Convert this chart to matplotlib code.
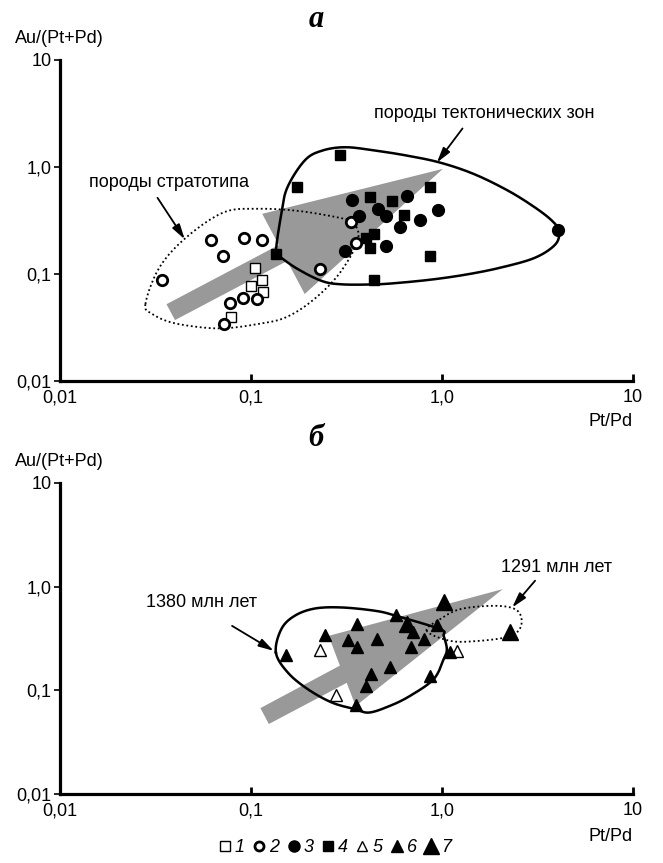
import matplotlib
matplotlib.use("Agg")
import matplotlib.pyplot as plt
import numpy as np
from matplotlib.lines import Line2D

plt.rcParams['font.family'] = ['Liberation Sans', 'DejaVu Sans']

# ---- panel a (Pt/Pd, Au/(Pt+Pd)) ----
sq_open_x = [0.105, 0.1135, 0.0996, 0.116, 0.0785]
sq_open_y = [0.113, 0.088, 0.077, 0.068, 0.040]

circ_open_x = [0.0342, 0.0615, 0.0712, 0.0918, 0.1135, 0.230, 0.335, 0.356, 0.0773, 0.0906, 0.107, 0.0718]
circ_open_y = [0.087, 0.208, 0.148, 0.216, 0.208, 0.111, 0.309, 0.195, 0.0539, 0.060, 0.058, 0.0342]

circ_fill_x = [0.339, 0.46, 0.367, 0.506, 0.657, 0.948, 0.767, 0.600, 0.310, 0.510, 4.06]
circ_fill_y = [0.494, 0.404, 0.350, 0.350, 0.538, 0.398, 0.321, 0.272, 0.164, 0.183, 0.257]

sq_fill_x = [0.294, 0.175, 0.135, 0.442, 0.86, 0.419, 0.548, 0.634, 0.399, 0.442, 0.421, 0.867]
sq_fill_y = [1.30, 0.644, 0.155, 0.087, 0.653, 0.519, 0.483, 0.357, 0.219, 0.235, 0.174, 0.148]

# envelope "породы тектонических зон"
tect_x = [0.135, 0.144, 0.155, 0.191, 0.235, 0.313, 0.451, 0.652, 0.976, 1.47, 2.22, 3.07, 3.77,
          4.09, 3.93, 3.07, 2.04, 1.36, 0.904, 0.600, 0.446, 0.300, 0.235, 0.176, 0.144]
tect_y = [0.158, 0.363, 0.644, 1.15, 1.42, 1.53, 1.42, 1.28, 1.10, 0.859, 0.600, 0.418, 0.314,
          0.253, 0.190, 0.142, 0.115, 0.0993, 0.0892, 0.0828, 0.080, 0.080, 0.086, 0.111, 0.142]

# envelope "породы стратотипа"
strat_x = [0.028, 0.0331, 0.0457, 0.0718, 0.1076, 0.176, 0.286, 0.344, 0.362, 0.288, 0.208,
           0.150, 0.1076, 0.078, 0.0583, 0.0389, 0.0305]
strat_y = [0.0524, 0.1146, 0.219, 0.376, 0.407, 0.389, 0.337, 0.301, 0.204, 0.0993, 0.0558,
           0.0389, 0.034, 0.0314, 0.0314, 0.035, 0.0422]

# grey trend arrow
arrow_a_x = [0.0361, 0.1397, 0.1145, 1.01, 0.191, 0.1546, 0.040]
arrow_a_y = [0.0522, 0.1866, 0.365, 0.96, 0.065, 0.1324, 0.0371]

# ---- panel b ----
tri_open_x = [0.230, 0.279, 1.20]
tri_open_y = [0.245, 0.0894, 0.240]

tri_small_x = [0.153, 0.243, 0.360, 0.323, 0.360, 0.457, 0.576, 0.707, 0.805, 0.692, 0.940,
               0.535, 0.425, 0.399, 0.867, 0.353, 1.107]
tri_small_y = [0.218, 0.340, 0.434, 0.306, 0.259, 0.311, 0.534, 0.366, 0.311, 0.264, 0.425,
               0.166, 0.143, 0.110, 0.137, 0.0716, 0.234]

tri_big_x = [1.02, 0.652, 2.26]
tri_big_y = [0.703, 0.434, 0.361]

# envelope 1380 Ma
env1380_x = [0.135, 0.144, 0.169, 0.216, 0.300, 0.451, 0.576, 0.979, 1.02, 1.06, 1.02, 0.904,
             0.678, 0.531, 0.416, 0.353, 0.266, 0.199, 0.156]
env1380_y = [0.231, 0.388, 0.522, 0.615, 0.629, 0.583, 0.522, 0.388, 0.335, 0.249, 0.200, 0.128,
             0.088, 0.0705, 0.061, 0.0655, 0.076, 0.102, 0.148]

# envelope 1291 Ma
env1291_x = [0.832, 0.979, 1.25, 1.88, 2.41, 2.61, 2.51, 2.13, 1.54, 1.11]
env1291_y = [0.374, 0.486, 0.607, 0.653, 0.607, 0.486, 0.374, 0.323, 0.299, 0.299]

arrow_b_x = [0.112, 0.292, 0.255, 2.08, 0.353, 0.317, 0.124]
arrow_b_y = [0.0673, 0.173, 0.335, 0.946, 0.0705, 0.118, 0.0473]

ticks = [0.01, 0.1, 1.0, 10]
tick_labels = ["0,01", "0,1", "1,0", "10"]
legend_labels = ["1", "2", "3", "4", "5", "6", "7"]

GREY = "#999999"
FS = 13


def closed_curve(xs, ys, n=14):
    # periodic Catmull-Rom through the points, done in log space
    pts = np.column_stack([np.log10(xs), np.log10(ys)])
    m = len(pts)
    t = np.linspace(0, 1, n, endpoint=False)[:, None]
    segs = []
    for i in range(m):
        p0, p1, p2, p3 = pts[i - 1], pts[i], pts[(i + 1) % m], pts[(i + 2) % m]
        segs.append(0.5 * (2 * p1 + (-p0 + p2) * t + (2 * p0 - 5 * p1 + 4 * p2 - p3) * t ** 2
                           + (-p0 + 3 * p1 - 3 * p2 + p3) * t ** 3))
    segs.append(pts[:1])
    out = np.vstack(segs)
    return 10 ** out[:, 0], 10 ** out[:, 1]


def setup_axes(ax, xlab_y):
    ax.set_xscale("log")
    ax.set_yscale("log")
    ax.set_xlim(0.01, 10)
    ax.set_ylim(0.01, 10)
    for s in ["top", "right"]:
        ax.spines[s].set_visible(False)
    for s in ["left", "bottom"]:
        ax.spines[s].set_linewidth(2.3)
    ax.set_xticks(ticks, tick_labels)
    ax.set_yticks(ticks, tick_labels)
    ax.minorticks_off()
    ax.tick_params(axis="x", direction="in", length=5, width=2, labelsize=FS, pad=6)
    ax.tick_params(axis="y", direction="out", length=4, width=1.2, labelsize=FS, pad=2)
    ax.set_xlabel("Pt/Pd", fontsize=FS)
    ax.xaxis.set_label_coords(1.0, xlab_y)
    ax.xaxis.label.set_horizontalalignment("right")
    ax.text(-0.078, 1.04, "Au/(Pt+Pd)", transform=ax.transAxes, fontsize=FS, ha="left", va="bottom")


def pointer(ax, tail, head):
    ax.annotate("", xy=head, xytext=tail,
                arrowprops=dict(arrowstyle="-|>,head_length=0.9,head_width=0.25",
                                color="black", lw=1.3, shrinkA=0, shrinkB=0))


fig = plt.figure(figsize=(6.63, 8.63), dpi=100)
ax1 = fig.add_axes([0.0905, 0.5585, 0.8643, 0.372])
ax2 = fig.add_axes([0.0905, 0.0800, 0.8643, 0.3604])

# panel a
setup_axes(ax1, -0.1)
ax1.fill(arrow_a_x, arrow_a_y, color=GREY, lw=0, zorder=1)
cx, cy = closed_curve(strat_x, strat_y)
ax1.plot(cx, cy, color="black", lw=1.3, ls=(0, (1, 1.5)), zorder=2)
cx, cy = closed_curve(tect_x, tect_y)
ax1.plot(cx, cy, color="black", lw=1.8, zorder=2)
ax1.plot(sq_open_x, sq_open_y, ls="none", marker="s", ms=7, mfc="white", mec="black", mew=1, zorder=3)
ax1.plot(circ_open_x, circ_open_y, ls="none", marker="o", ms=7.5, mfc="white", mec="black", mew=2, zorder=3)
ax1.plot(circ_fill_x, circ_fill_y, ls="none", marker="o", ms=8.5, color="black", zorder=3)
ax1.plot(sq_fill_x, sq_fill_y, ls="none", marker="s", ms=7.2, color="black", zorder=3)
ax1.text(0.44, 3.16, "породы тектонических зон", fontsize=FS, ha="left", va="center")
pointer(ax1, (1.28, 2.29), (0.94, 1.10))
ax1.text(0.0141, 0.713, "породы стратотипа", fontsize=FS, ha="left", va="center")
pointer(ax1, (0.0324, 0.515), (0.045, 0.211))
fig.text(0.477, 0.977, "а", fontsize=22, family="Liberation Serif", style="italic", weight="bold",
         ha="center", va="center")

# panel b
setup_axes(ax2, -0.11)
ax2.fill(arrow_b_x, arrow_b_y, color=GREY, lw=0, zorder=1)
cx, cy = closed_curve(env1291_x, env1291_y)
ax2.plot(cx, cy, color="black", lw=1.3, ls=(0, (1, 1.5)), zorder=2)
cx, cy = closed_curve(env1380_x, env1380_y)
ax2.plot(cx, cy, color="black", lw=1.8, zorder=2)
ax2.plot(tri_open_x, tri_open_y, ls="none", marker="^", ms=8, mfc="white", mec="black", mew=1, zorder=3)
ax2.plot(tri_small_x, tri_small_y, ls="none", marker="^", ms=8.5, color="black", zorder=3)
ax2.plot(tri_big_x, tri_big_y, ls="none", marker="^", ms=11.5, color="black", zorder=3)
ax2.text(0.108, 0.703, "1380 млн лет", fontsize=FS, ha="right", va="center")
pointer(ax2, (0.0796, 0.418), (0.1315, 0.240))
ax2.text(3.97, 1.53, "1291 млн лет", fontsize=FS, ha="center", va="center")
pointer(ax2, (3.07, 1.14), (2.33, 0.629))
fig.text(0.477, 0.492, "б", fontsize=22, family="Liberation Serif", style="italic", weight="bold",
         ha="center", va="center")

# legend
handles = [
    Line2D([], [], ls="none", marker="s", ms=6.5, mfc="white", mec="black", mew=1),
    Line2D([], [], ls="none", marker="o", ms=6.5, mfc="white", mec="black", mew=2),
    Line2D([], [], ls="none", marker="o", ms=8, color="black"),
    Line2D([], [], ls="none", marker="s", ms=6.5, color="black"),
    Line2D([], [], ls="none", marker="^", ms=7, mfc="white", mec="black", mew=1),
    Line2D([], [], ls="none", marker="^", ms=8, color="black"),
    Line2D([], [], ls="none", marker="^", ms=11, color="black"),
]
fig.legend(handles, legend_labels, loc="center", bbox_to_anchor=(0.505, 0.0175), ncol=7,
           frameon=False, handlelength=0.7, handletextpad=0.2, columnspacing=0.45,
           borderpad=0, prop={"size": FS, "style": "italic"})

fig.savefig("out.png", dpi=100)
